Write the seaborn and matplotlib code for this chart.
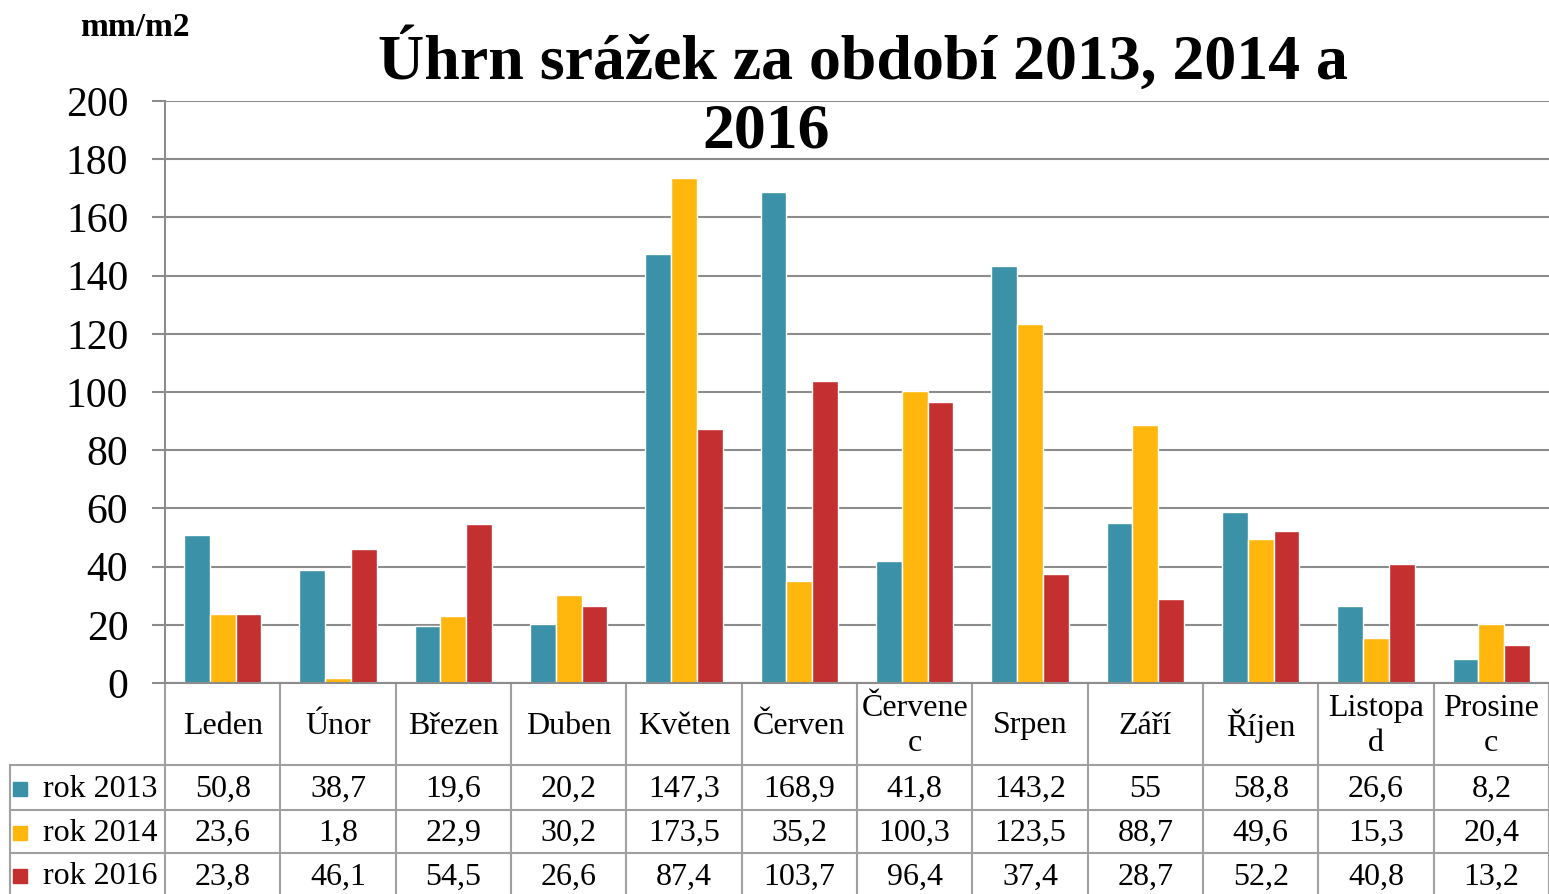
import numpy as np
import pandas as pd
import matplotlib
matplotlib.use("Agg")
import matplotlib.pyplot as plt
import matplotlib.transforms as mtransforms
import seaborn as sns

months = ["Leden", "Únor", "Březen", "Duben", "Květen", "Červen",
          "Červenec", "Srpen", "Září", "Říjen", "Listopad", "Prosinec"]
month_labels = ["Leden", "Únor", "Březen", "Duben", "Květen", "Červen",
                "Červene\nc", "Srpen", "Září", "Říjen", "Listopa\nd", "Prosine\nc"]
series_names = ["rok 2013", "rok 2014", "rok 2016"]
rok_2013 = [50.8, 38.7, 19.6, 20.2, 147.3, 168.9, 41.8, 143.2, 55, 58.8, 26.6, 8.2]
rok_2014 = [23.6, 1.8, 22.9, 30.2, 173.5, 35.2, 100.3, 123.5, 88.7, 49.6, 15.3, 20.4]
rok_2016 = [23.8, 46.1, 54.5, 26.6, 87.4, 103.7, 96.4, 37.4, 28.7, 52.2, 40.8, 13.2]
yticks = list(range(0, 201, 20))
colors = ["#3A91A8", "#FFB70D", "#C4302F"]

W, H = 1549, 894
sns.set_theme(style="white")
plt.rcParams["font.family"] = ["Liberation Serif", "DejaVu Serif"]
plt.rcParams["text.color"] = "black"
plt.rcParams["ytick.labelcolor"] = "black"

df = pd.DataFrame({
    "month": months * 3,
    "series": np.repeat(series_names, len(months)),
    "value": rok_2013 + rok_2014 + rok_2016,
})

fig = plt.figure(figsize=(W / 100, H / 100), dpi=100)
ax_left, ax_right = 165 / W, 1.0
ax_bottom, ax_top = 1 - 683 / H, 1 - 101 / H
ax = fig.add_axes([ax_left, ax_bottom, ax_right - ax_left, ax_top - ax_bottom])

sns.barplot(data=df, x="month", y="value", hue="series", order=months,
            hue_order=series_names, palette=colors, width=0.67,
            saturation=1, dodge=True, legend=False, ax=ax)

grid_c = "#8C8C8C"
line_c = "#A0A0A0"
ax.set_xlim(-0.5, 11.5)
ax.set_ylim(0, 200)
ax.set_yticks(yticks)
ax.yaxis.grid(True, color=grid_c, linewidth=1.5)
ax.set_axisbelow(True)
ax.tick_params(axis="y", length=9.4, width=1.5, color=grid_c, pad=17,
               labelsize=30, left=True, labelcolor="black")
ax.tick_params(axis="x", bottom=False, labelbottom=False)
ax.set_xlabel("")
ax.set_ylabel("")
for s in ["top", "right", "bottom"]:
    ax.spines[s].set_visible(False)
ax.spines["left"].set_color(grid_c)
ax.spines["left"].set_linewidth(1.5)

# titles
fig.text(863 / W, 1 - 60 / H, "Úhrn srážek za období 2013, 2014 a",
         ha="center", va="center", fontsize=46, fontweight="bold")
fig.text(766 / W, 1 - 132 / H, "2016",
         ha="center", va="center", fontsize=46, fontweight="bold")
fig.text(135 / W, 1 - 27 / H, "mm/m2", ha="center", va="center",
         fontsize=24, fontweight="bold")

# data table below the chart
tr = mtransforms.blended_transform_factory(ax.transData, fig.transFigure)
px_per_unit = (W - 165) / 12
x_first = -0.5 - (165 - 10) / px_per_unit
row_edges = [683, 765, 810, 853, 897]

def fy(py):
    return 1 - py / H

for i in range(13):
    ax.plot([i - 0.5, i - 0.5], [fy(683), fy(H)], color=line_c, lw=1.5,
            transform=tr, clip_on=False)
ax.plot([x_first, x_first], [fy(765), fy(H)], color=line_c, lw=1.5,
        transform=tr, clip_on=False)
ax.plot([-0.5, 11.5], [fy(683), fy(683)], color=grid_c, lw=1.5,
        transform=tr, clip_on=False)
for py in row_edges[1:4]:
    ax.plot([x_first, 11.5], [fy(py), fy(py)], color=line_c, lw=1.5,
            transform=tr, clip_on=False)

hdr_y = (row_edges[0] + row_edges[1]) / 2 + 2
for i, lab in enumerate(month_labels):
    ax.text(i, fy(hdr_y), lab, transform=tr, ha="center", va="center",
            fontsize=23, linespacing=1.28)

series_vals = [rok_2013, rok_2014, rok_2016]
for r, (name, vals, col) in enumerate(zip(series_names, series_vals, colors)):
    cy = (row_edges[r + 1] + row_edges[r + 2]) / 2 + 2
    ax.plot([x_first + 0.09], [fy(cy - 1)], marker="s", markersize=10,
            color=col, transform=tr, clip_on=False)
    ax.text(x_first + 0.285, fy(cy), name, transform=tr, ha="left",
            va="center", fontsize=23)
    for i, v in enumerate(vals):
        txt = f"{v:g}".replace(".", ",")
        ax.text(i, fy(cy), txt, transform=tr, ha="center", va="center",
                fontsize=23)

fig.savefig("out.png", dpi=100)
